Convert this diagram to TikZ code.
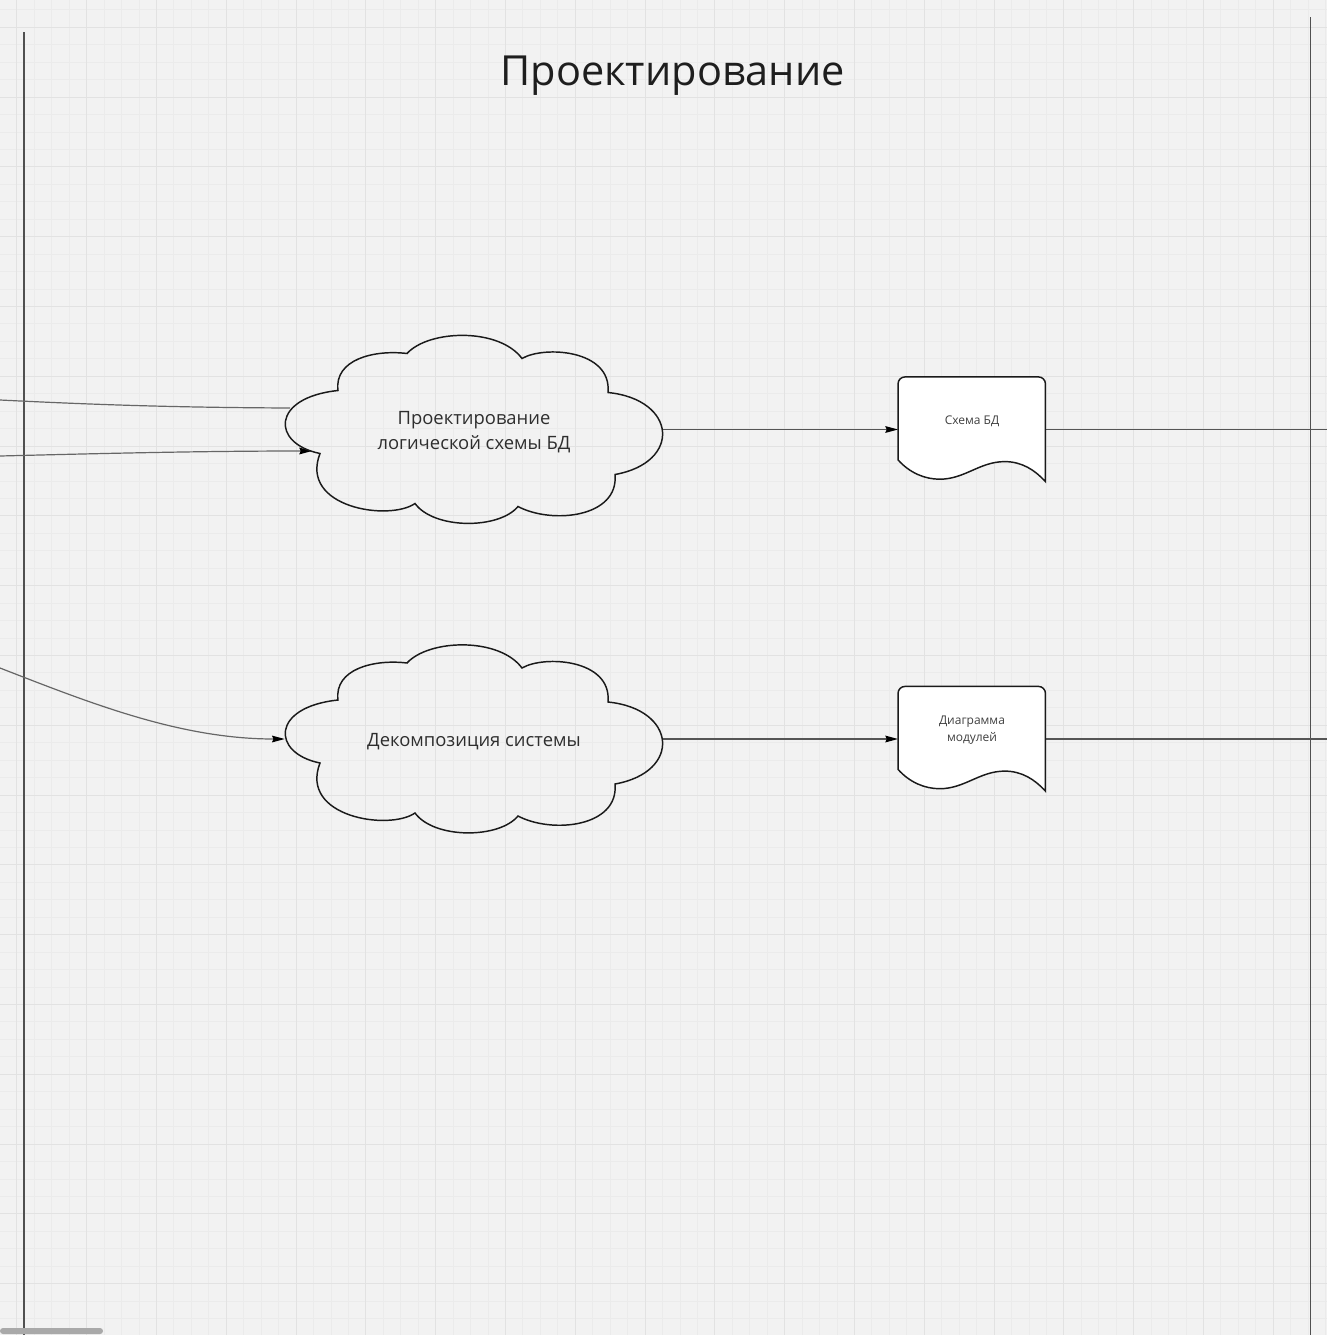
\documentclass[tikz,border=0pt]{standalone}
\usepackage{fontspec}
\setmainfont{Open Sans}
\usetikzlibrary{arrows.meta}
\definecolor{bgc}{HTML}{F2F2F2}
\definecolor{minorc}{HTML}{EBEBEB}
\definecolor{majorc}{HTML}{E2E2E2}
\definecolor{lanec}{HTML}{505050}
\definecolor{wirec}{HTML}{555555}
\definecolor{inc}{HTML}{666666}
\definecolor{shapec}{HTML}{1A1A1A}
\definecolor{titlec}{HTML}{1E1E1E}
\definecolor{txtc}{HTML}{2E2E2E}
\definecolor{doctxtc}{HTML}{404040}
\definecolor{scrollc}{HTML}{A9A9A9}
\tikzset{
  minorline/.style={draw=minorc,line width=0.75pt},
  majorline/.style={draw=majorc,line width=0.75pt},
  laneline/.style={draw=lanec,line width=1.1pt},
  wire/.style={draw=wirec,line width=0.9pt},
  inwire/.style={draw=inc,line width=0.9pt},
  tip/.style={-{Stealth[length=9.5pt,width=5pt,inset=1pt,color=black,fill=black]}},
  cloudline/.style={draw=shapec,line width=1.1pt},
  docline/.style={draw=shapec,line width=1.1pt,fill=white},
  cloudbox/.style={rectangle,draw=none,inner sep=0pt,minimum width=283.5pt,minimum height=141pt},
  docbox/.style={rectangle,draw=none,inner sep=0pt,minimum width=110.55pt,minimum height=78.5pt},
  titletext/.style={font=\fontsize{31.1}{36}\selectfont,text=titlec,inner sep=0pt},
  cloudtext/.style={font=\fontsize{13.8}{18.75}\selectfont,text=txtc,align=center,inner sep=0pt},
  doctext/.style={font=\fontsize{9}{13}\selectfont,text=doctxtc,align=center,inner sep=0pt},
  cloudpic/.pic={
    \draw[cloudline] (-136,-39) .. controls (-140,-70) and (-100,-80) .. (-67,-76)
      .. controls (-45,-100) and (25,-102) .. (48,-71)
      .. controls (70,-84) and (138,-80) .. (134,-37)
      .. controls (203,-30) and (208,33) .. (141,45)
      .. controls (145,88) and (78,95) .. (44,77)
      .. controls (25,100) and (-40,100) .. (-59,74)
      .. controls (-85,92) and (-175,78) .. (-154,24)
      .. controls (-203,14) and (-203,-32) .. (-136,-39) -- cycle;
  },
  docpic/.pic={
    \draw[docline] (0,83) -- (0,7) .. controls (0,3.1) and (3.1,0) .. (7,0)
      -- (140.4,0) .. controls (144.3,0) and (147.4,3.1) .. (147.4,7)
      -- (147.4,104.7)
      .. controls (136.7,93) and (123.7,84.7) .. (106.7,84.7)
      .. controls (81.7,84.7) and (66.7,102.3) .. (41.7,102.3)
      .. controls (26.7,102.3) and (11.7,96) .. (0,83) -- cycle;
  }
}
\begin{document}
\begin{tikzpicture}[x=0.75pt,y=-0.75pt]
\useasboundingbox (0,0) rectangle (1327,1335);
\fill[bgc] (0,0) rectangle (1327,1335);
% grid
\foreach \i in {0,...,75} {
  \draw[minorline] ({16.9+17.45*\i},0) -- ({16.9+17.45*\i},1335);
  \draw[minorline] (0,{9.85+17.45*\i}) -- (1327,{9.85+17.45*\i});
}
\foreach \i in {0,...,18} {
  \draw[majorline] ({16.9+69.8*\i},0) -- ({16.9+69.8*\i},1335);
  \draw[majorline] (0,{27.3+69.8*\i}) -- (1327,{27.3+69.8*\i});
}
% swimlane borders
\coordinate (laneLtop) at (24,32);
\coordinate (laneLbot) at (24,1335);
\coordinate (laneRtop) at (1310.5,17);
\coordinate (laneRbot) at (1310.5,1335);
\draw[laneline] (laneLtop) -- (laneLbot);
\draw[laneline] (laneRtop) -- (laneRbot);
% title
\node[titletext,anchor=base] (title) at (672.5,85) {Проектирование};
% shapes (invisible anchors)
\node[cloudbox] (cl1) at (474,429.5) {};
\node[cloudbox] (cl2) at (474,739) {};
\node[docbox] (doc1) at (972,429.5) {};
\node[docbox] (doc2) at (972,739) {};
% connector ends
\coordinate (inA) at (0,400);
\coordinate (inB) at (0,456);
\coordinate (inC) at (0,668);
\coordinate (cl1inA) at ([shift={(-184,-21.5)}]cl1.center);
\coordinate (cl1inB) at ([shift={(-162,21.5)}]cl1.center);
\coordinate (outA) at (1327,429.5);
\coordinate (outB) at (1327,739);
% connectors
\draw[inwire] (inA) .. controls (100,405) and (180,407.5) .. (cl1inA);
\draw[inwire,tip] (inB) .. controls (100,453.5) and (200,451) .. (cl1inB);
\draw[inwire,tip] (inC) .. controls (90,703) and (180,739) .. (cl2.west);
\draw[wire,tip] (cl1.east) -- (doc1.west);
\draw[wire,tip] (cl2.east) -- (doc2.west);
\draw[wire] (doc1.east) -- (outA);
\draw[wire] (doc2.east) -- (outB);
% clouds
\pic at (cl1.center) {cloudpic};
\pic at (cl2.center) {cloudpic};
% documents
\pic at (doc1.north west) {docpic};
\pic at (doc2.north west) {docpic};
% texts
\node[cloudtext] (cl1t) at (474,432) {Проектирование\\логической схемы БД};
\node[cloudtext,anchor=base] (cl2t) at (474,746) {Декомпозиция системы};
\node[doctext,anchor=base] (doc1t) at (972,424) {Схема БД};
\node[doctext] (doc2t) at (972,730) {Диаграмма\\модулей};
% scrollbar
\fill[scrollc,rounded corners=2.25pt] (0,1328) rectangle (103,1334);
\end{tikzpicture}
\end{document}
